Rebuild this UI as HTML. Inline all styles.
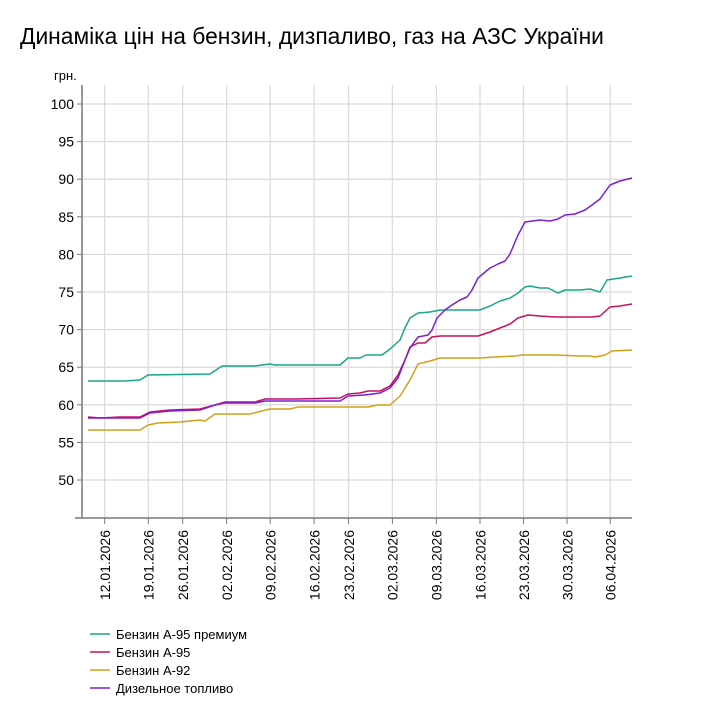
<!DOCTYPE html>
<html><head><meta charset="utf-8"><style>
html,body{margin:0;padding:0;background:#fff;}
svg{display:block;font-family:"Liberation Sans",Arial,sans-serif;}
</style></head><body>
<svg width="703" height="718" viewBox="0 0 703 718" xmlns="http://www.w3.org/2000/svg">
<text x="20" y="44" font-size="22.8" fill="#000">Динаміка цін на бензин, дизпаливо, газ на АЗС України</text>
<text x="54" y="80" font-size="13" fill="#000">грн.</text>
<g stroke="#dcdcdc" stroke-width="1.3">
<line x1="82" x2="632" y1="104" y2="104"/><line x1="82" x2="632" y1="141.6" y2="141.6"/>
<line x1="82" x2="632" y1="179.2" y2="179.2"/><line x1="82" x2="632" y1="216.8" y2="216.8"/>
<line x1="82" x2="632" y1="254.4" y2="254.4"/><line x1="82" x2="632" y1="292" y2="292"/>
<line x1="82" x2="632" y1="329.6" y2="329.6"/><line x1="82" x2="632" y1="367.2" y2="367.2"/>
<line x1="82" x2="632" y1="404.8" y2="404.8"/><line x1="82" x2="632" y1="442.4" y2="442.4"/>
<line x1="82" x2="632" y1="480" y2="480"/>
<line x1="104.7" x2="104.7" y1="85" y2="518"/><line x1="148.3" x2="148.3" y1="85" y2="518"/>
<line x1="182.7" x2="182.7" y1="85" y2="518"/><line x1="226.6" x2="226.6" y1="85" y2="518"/>
<line x1="270.2" x2="270.2" y1="85" y2="518"/><line x1="314.1" x2="314.1" y1="85" y2="518"/>
<line x1="348.5" x2="348.5" y1="85" y2="518"/><line x1="392.4" x2="392.4" y1="85" y2="518"/>
<line x1="436.4" x2="436.4" y1="85" y2="518"/><line x1="480" x2="480" y1="85" y2="518"/>
<line x1="523.5" x2="523.5" y1="85" y2="518"/><line x1="567" x2="567" y1="85" y2="518"/>
<line x1="610.2" x2="610.2" y1="85" y2="518"/>
</g>
<g stroke="#777" stroke-width="1.5">
<line x1="82" x2="82" y1="85" y2="518"/><line x1="75" x2="632" y1="518" y2="518"/>
</g>
<g stroke="#777" stroke-width="1">
<line x1="77" x2="82" y1="104" y2="104"/><line x1="77" x2="82" y1="141.6" y2="141.6"/><line x1="77" x2="82" y1="179.2" y2="179.2"/><line x1="77" x2="82" y1="216.8" y2="216.8"/><line x1="77" x2="82" y1="254.4" y2="254.4"/><line x1="77" x2="82" y1="292" y2="292"/><line x1="77" x2="82" y1="329.6" y2="329.6"/><line x1="77" x2="82" y1="367.2" y2="367.2"/><line x1="77" x2="82" y1="404.8" y2="404.8"/><line x1="77" x2="82" y1="442.4" y2="442.4"/><line x1="77" x2="82" y1="480" y2="480"/>
<line x1="104.7" x2="104.7" y1="518" y2="524"/><line x1="148.3" x2="148.3" y1="518" y2="524"/><line x1="182.7" x2="182.7" y1="518" y2="524"/><line x1="226.6" x2="226.6" y1="518" y2="524"/><line x1="270.2" x2="270.2" y1="518" y2="524"/><line x1="314.1" x2="314.1" y1="518" y2="524"/><line x1="348.5" x2="348.5" y1="518" y2="524"/><line x1="392.4" x2="392.4" y1="518" y2="524"/><line x1="436.4" x2="436.4" y1="518" y2="524"/><line x1="480" x2="480" y1="518" y2="524"/><line x1="523.5" x2="523.5" y1="518" y2="524"/><line x1="567" x2="567" y1="518" y2="524"/><line x1="610.2" x2="610.2" y1="518" y2="524"/>
</g>
<g font-size="14" fill="#000" text-anchor="end">
<text x="74" y="109">100</text><text x="74" y="146.6">95</text><text x="74" y="184.2">90</text><text x="74" y="221.8">85</text><text x="74" y="259.4">80</text><text x="74" y="297">75</text><text x="74" y="334.6">70</text><text x="74" y="372.2">65</text><text x="74" y="409.8">60</text><text x="74" y="447.4">55</text><text x="74" y="485">50</text>
</g>
<g font-size="14" fill="#000" text-anchor="end">
<text transform="translate(110,530) rotate(-90)">12.01.2026</text>
<text transform="translate(153.5,530) rotate(-90)">19.01.2026</text>
<text transform="translate(188,530) rotate(-90)">26.01.2026</text>
<text transform="translate(232,530) rotate(-90)">02.02.2026</text>
<text transform="translate(275.5,530) rotate(-90)">09.02.2026</text>
<text transform="translate(319.5,530) rotate(-90)">16.02.2026</text>
<text transform="translate(354,530) rotate(-90)">23.02.2026</text>
<text transform="translate(397.5,530) rotate(-90)">02.03.2026</text>
<text transform="translate(441.5,530) rotate(-90)">09.03.2026</text>
<text transform="translate(485.5,530) rotate(-90)">16.03.2026</text>
<text transform="translate(529,530) rotate(-90)">23.03.2026</text>
<text transform="translate(572.5,530) rotate(-90)">30.03.2026</text>
<text transform="translate(615.5,530) rotate(-90)">06.04.2026</text>
</g>
<g fill="none" stroke-width="1.5" stroke-linejoin="round">
<polyline stroke="#1aa68a" points="88,381 125,381 140,380 148,375 210,374 222,366 255,366 262,365 270,364 275,365 340,365 348,358 360,358 366,355 382,355 390,349 400,340 405,328 410,318 418,313 430,312 440,310 480,310 490,306 500,301 510,298 518,293 525,287 530,286 540,288 548,288 558,293 565,290 580,290 590,289 600,292 607,280 620,278 632,276"/>
<polyline stroke="#c8105f" points="88,417 100,418 120,417 140,417 150,412 170,410 200,409 215,405 225,402 255,402 265,399 295,399 340,398 348,394 360,393 368,391 380,391 390,386 398,375 405,360 410,347 418,343 425,343 432,337 440,336 478,336 490,332 500,328 510,324 518,318 528,315 540,316 555,317 592,317 600,316 610,307 620,306 632,304"/>
<polyline stroke="#d4a017" points="88,430 140,430 148,425 158,423 180,422 200,420 205,421 215,414 250,414 270,409 290,409 298,407 368,407 378,405 390,405 400,396 410,380 418,364 430,361 440,358 480,358 495,357 515,356 522,355 555,355 580,356 590,356 595,357 605,355 612,351 632,350"/>
<polyline stroke="#7b1fd6" points="88,418 140,418 150,413 170,411 200,410 215,405 225,403 255,403 265,401 340,401 348,396 365,395 380,393 390,388 398,378 405,360 410,348 418,337 428,335 432,330 437,318 445,310 452,305 460,300 467,297 472,290 478,278 490,268 498,264 505,261 510,254 518,235 525,222 540,220 550,221 558,219 565,215 575,214 585,210 592,205 600,199 610,185 620,181 632,178"/>
</g>
<g font-size="13" fill="#000">
<line x1="90" x2="110" y1="634" y2="634" stroke="#1aa68a" stroke-width="1.5"/><text x="116" y="639">Бензин А-95 премиум</text>
<line x1="90" x2="110" y1="652" y2="652" stroke="#c8105f" stroke-width="1.5"/><text x="116" y="657">Бензин А-95</text>
<line x1="90" x2="110" y1="670" y2="670" stroke="#d4a017" stroke-width="1.5"/><text x="116" y="675">Бензин А-92</text>
<line x1="90" x2="110" y1="688" y2="688" stroke="#7b1fd6" stroke-width="1.5"/><text x="116" y="693">Дизельное топливо</text>
</g>
</svg>
</body></html>
